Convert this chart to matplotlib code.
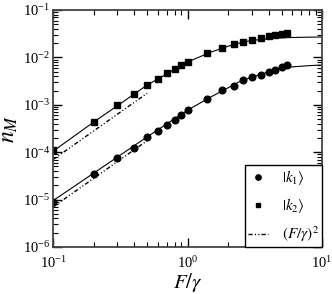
import numpy as np
import matplotlib
matplotlib.use('Agg')
import matplotlib.pyplot as plt

plt.rcParams['font.family'] = 'serif'
plt.rcParams['font.serif'] = ['Liberation Serif', 'DejaVu Serif']
plt.rcParams['mathtext.fontset'] = 'stix'

# data
f_pts = [0.1, 0.2, 0.3, 0.4, 0.5, 0.6, 0.7, 0.8, 0.9, 1.0,
         1.4, 1.8, 2.2, 2.6, 3.0, 3.5, 4.0, 4.5, 5.0, 5.5]
k1_vals = [9.0e-6, 3.42e-5, 7.66e-5, 1.24e-4, 2.06e-4, 2.84e-4, 3.70e-4, 4.85e-4, 6.09e-4, 7.66e-4,
           1.31e-3, 2.02e-3, 2.55e-3, 3.37e-3, 3.80e-3, 4.31e-3, 4.99e-3, 5.50e-3, 6.27e-3, 6.91e-3]
k2_vals = [1.1e-4, 4.4e-4, 1.0e-3, 1.71e-3, 2.58e-3, 3.56e-3, 4.62e-3, 5.69e-3, 7.0e-3, 8.0e-3,
           1.24e-2, 1.58e-2, 1.89e-2, 2.09e-2, 2.33e-2, 2.6e-2, 2.79e-2, 2.93e-2, 3.16e-2, 3.27e-2]

# theory curves
f_curve = [0.1, 0.2, 0.5, 1.0, 1.5, 2.0, 2.5, 3.0, 4.0, 5.0, 6.0, 8.0, 10.0]
k1_curve = [9.5e-6, 3.6e-5, 2.1e-4, 7.7e-4, 1.48e-3, 2.28e-3, 3.2e-3, 3.8e-3, 4.95e-3, 5.95e-3, 6.3e-3, 6.7e-3, 6.9e-3]
k2_curve = [1.05e-4, 4.3e-4, 2.6e-3, 8.0e-3, 1.3e-2, 1.72e-2, 2.05e-2, 2.28e-2, 2.48e-2, 2.58e-2, 2.63e-2, 2.67e-2, 2.69e-2]

# (F/gamma)^2 guides
f_pow = [0.1, 0.5]
pow_hi = [7.0e-5, 1.75e-3]
pow_lo = [7.0e-6, 1.75e-4]

fig = plt.figure(figsize=(3.32, 2.94), dpi=100)
ax = fig.add_axes([0.16, 0.16, 0.81, 0.806])

dd = (3, 1.6, 0.8, 1.6, 0.8, 1.6)
ax.plot(f_curve, k1_curve, color='black', lw=0.8)
ax.plot(f_curve, k2_curve, color='black', lw=0.8)
ax.plot(f_pow, pow_hi, color='black', lw=1.0, dashes=dd)
ax.plot(f_pow, pow_lo, color='black', lw=1.0, dashes=dd)
ax.plot(f_pts, k1_vals, 'o', color='black', ms=4.8, label=r'$|k_1\rangle$')
ax.plot(f_pts, k2_vals, 's', color='black', ms=4.3, label=r'$|k_2\rangle$')
# legend-only handle for the guide line
ax.plot([], [], color='black', lw=1.0, dashes=dd, label=r'$(F/\gamma)^2$')

ax.set_xscale('log')
ax.set_yscale('log')
ax.set_xlim(0.1, 10)
ax.set_ylim(1e-6, 1e-1)

ax.tick_params(which='both', direction='in', top=True, right=True, labelsize=10.5)
ax.tick_params(which='major', length=6.5, width=1.0)
ax.tick_params(which='minor', length=3.5, width=0.8)
ax.tick_params(axis='x', pad=6)
ax.tick_params(axis='y', pad=2)
for s in ax.spines.values():
    s.set_linewidth(1.3)
    s.set_color('#444444')

ax.set_xlabel(r'$F/\gamma$', fontsize=15, labelpad=0)
ax.set_ylabel(r'$n_M$', fontsize=17, labelpad=2)

leg = ax.legend(loc='lower right', bbox_to_anchor=(1.0, 0.0), borderaxespad=0,
                fontsize=11, handlelength=1.3, handletextpad=0.9, labelspacing=0.6,
                borderpad=0.2, markerscale=0.8, fancybox=False, framealpha=1,
                edgecolor='black')
leg.get_frame().set_linewidth(1.0)

fig.savefig('out.png', dpi=100)
